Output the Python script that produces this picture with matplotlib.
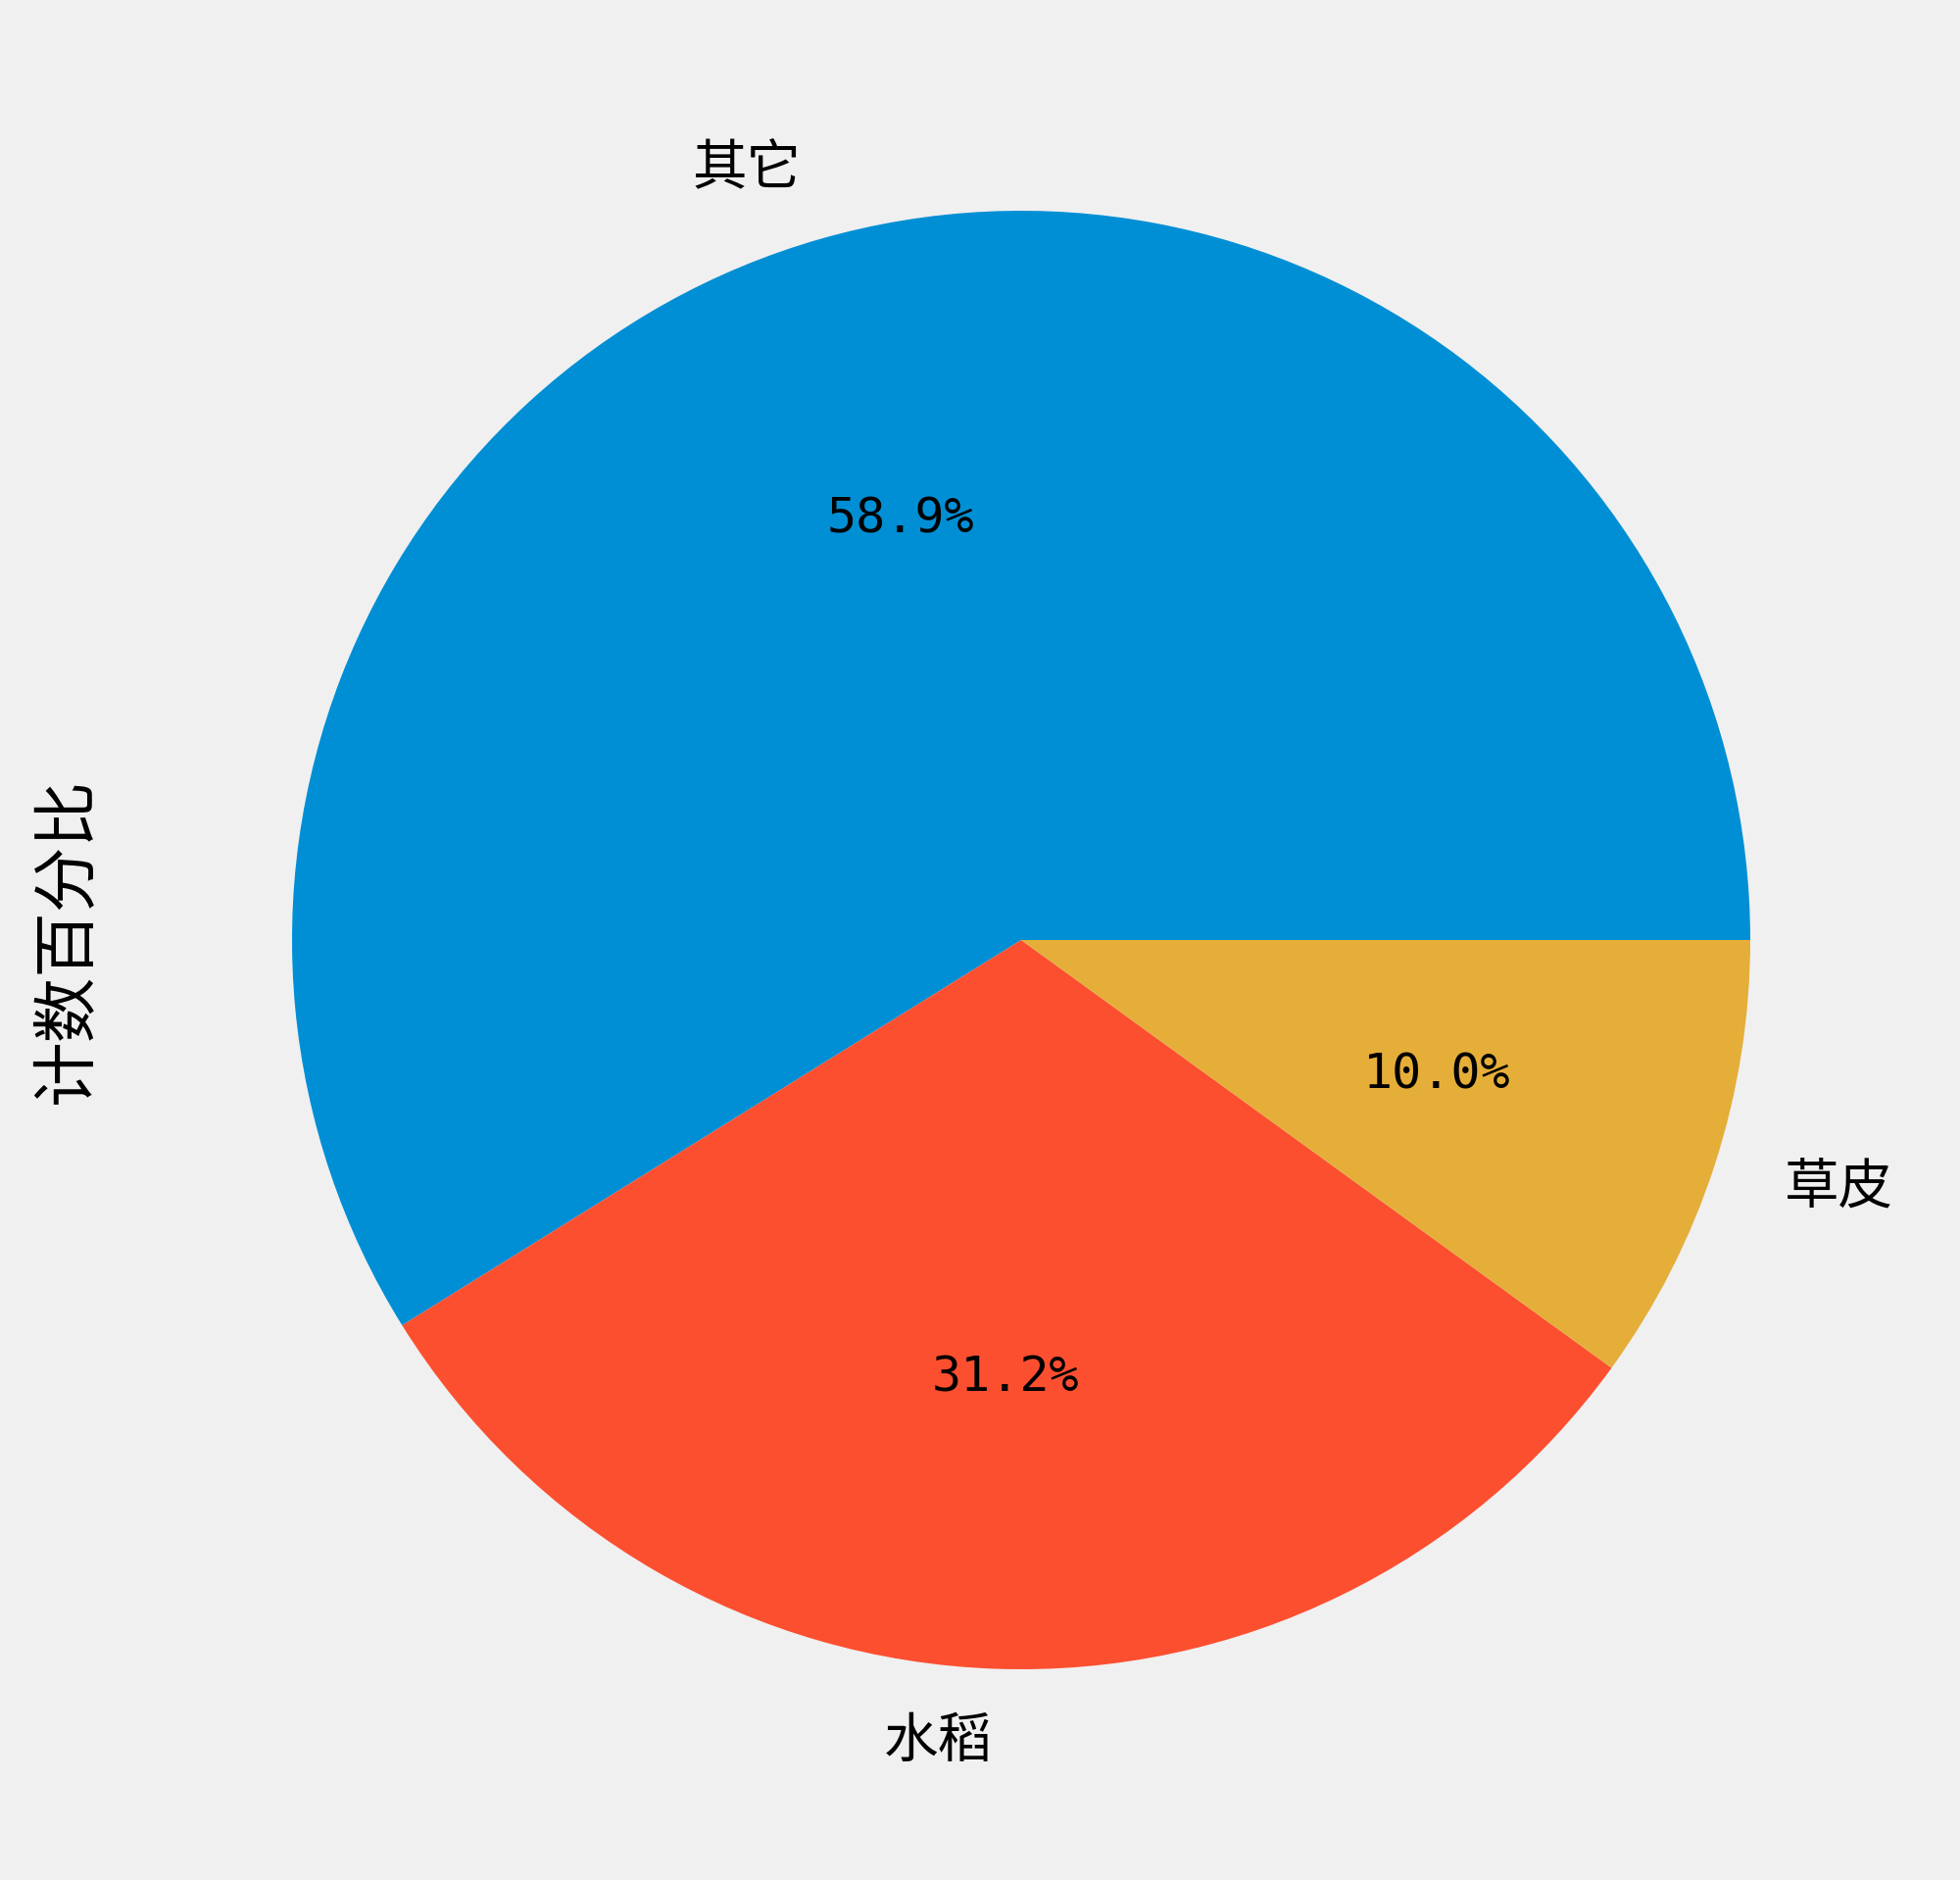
import matplotlib
matplotlib.use('Agg')
import matplotlib.pyplot as plt

plt.style.use('fivethirtyeight')
plt.rcParams['font.family'] = ['DejaVu Sans Mono', 'Noto Sans CJK SC']

labels = ['其它', '水稻', '草皮']
shares = [58.86, 31.16, 9.98]
colors = ['#008fd5', '#fc4f30', '#e5ae38']

fig = plt.figure(figsize=(10, 9.59), dpi=200)
ax = fig.add_axes([0.056, 0.0151, 0.93, 0.9698])

wedges, texts, autotexts = ax.pie(shares, labels=labels, colors=colors,
                                  autopct='%1.1f%%', startangle=0,
                                  textprops={'fontsize': 20})
for t in texts:
    t.set_family(['Noto Sans CJK SC', 'DejaVu Sans'])
for t in autotexts:
    t.set_fontsize(18)
    t.set_family(['DejaVu Sans Mono'])

ax.set_ylabel('计数百分比', fontsize=24, family=['Noto Sans CJK SC', 'DejaVu Sans'])
ax.yaxis.set_label_coords(-0.0055, 0.5)
ax.set_aspect('equal')

fig.savefig('out.png', dpi=200, facecolor=fig.get_facecolor())
